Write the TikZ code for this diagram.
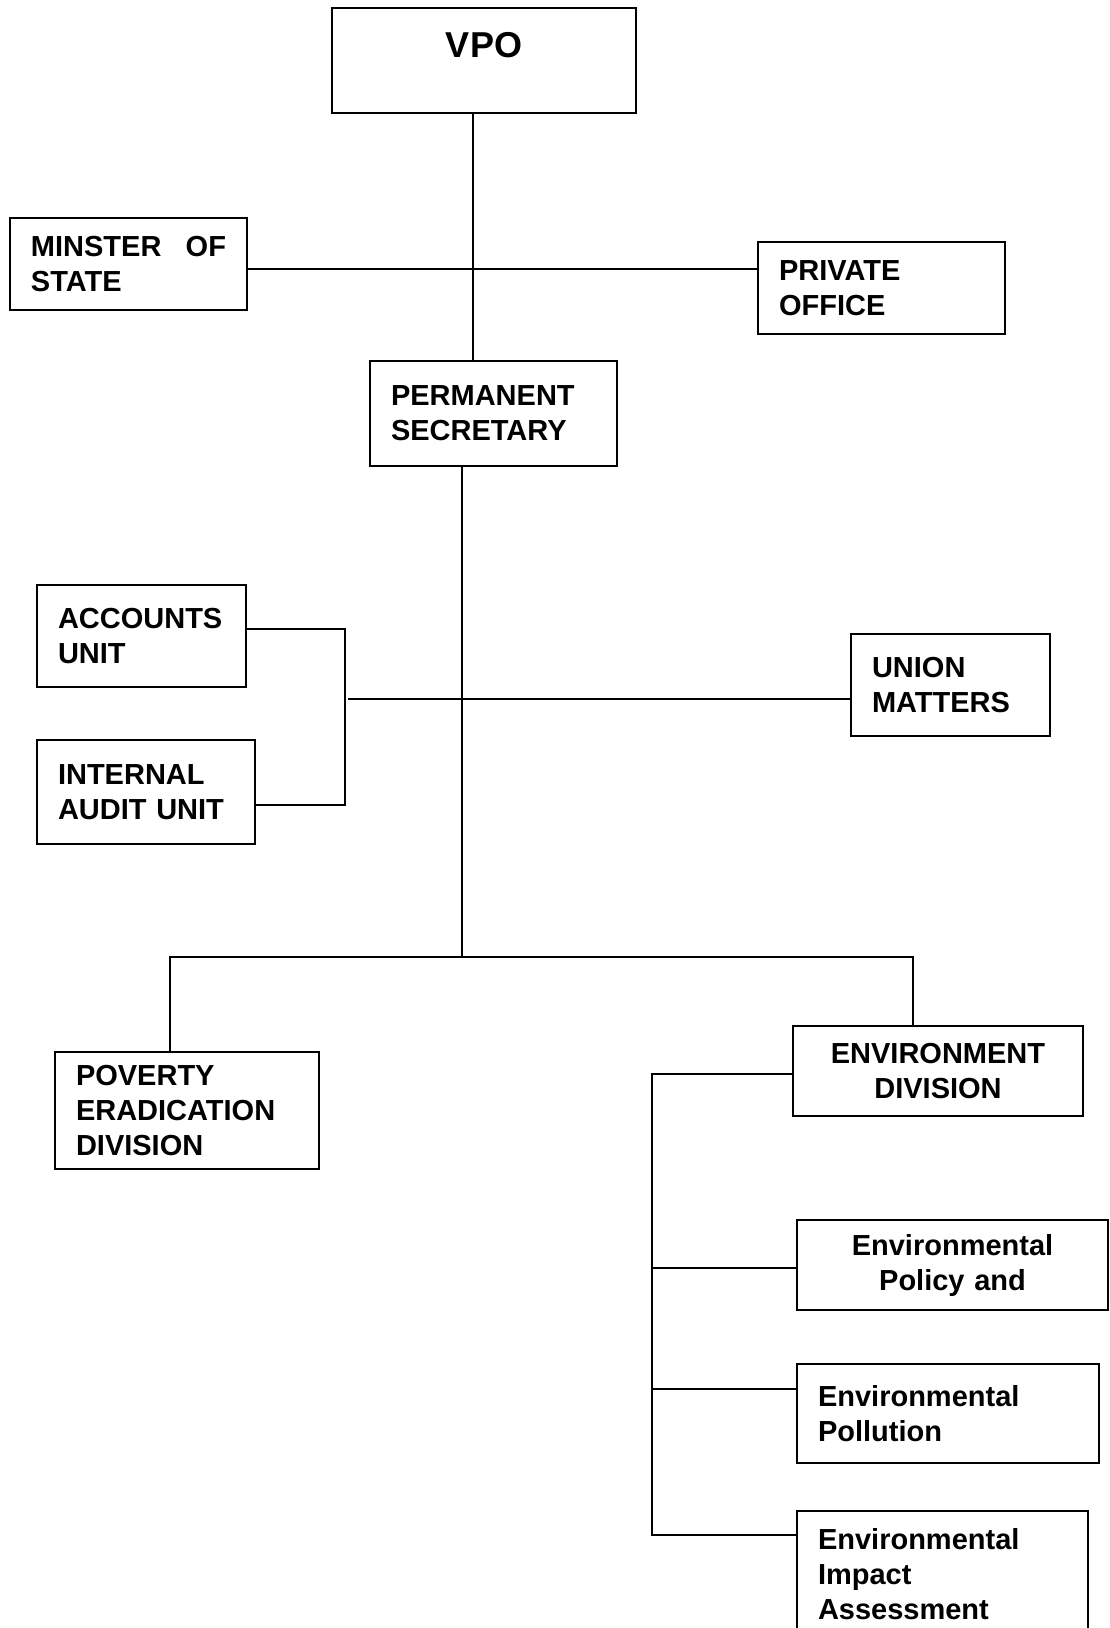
\documentclass[tikz,border=0pt]{standalone}
\usepackage{fontspec}
\setmainfont{Liberation Sans}
\usepackage{tikz}

\begin{document}
\begin{tikzpicture}[x=0.5pt,y=-0.5pt]
\tikzstyle{unit}=[draw,line width=1pt,anchor=north west,inner xsep=10.5pt,inner ysep=0pt,align=left,font=\bfseries\fontsize{14.5}{17.5}\selectfont]
\tikzstyle{cunit}=[unit,align=center]
\tikzstyle{link}=[line width=0.75pt]
\useasboundingbox (0,0) rectangle (1109,1628);
\node[unit,minimum width=152pt,minimum height=52.5pt,inner sep=0pt,align=center,text height=24.5pt,text depth=28pt,font=\bfseries\fontsize{18}{21}\selectfont] (vpo) at (331,7) {VPO};
\node[unit,minimum width=118.5pt,text width=97.5pt,minimum height=46pt] (minister) at (9,217) {MINSTER\hfill OF\\STATE};
\node[unit,minimum width=123.5pt,text width=102.5pt,minimum height=46pt] (private) at (757,241) {PRIVATE\\OFFICE};
\node[unit,minimum width=123.5pt,text width=102.5pt,minimum height=52.5pt] (perm) at (369,360) {PERMANENT\\SECRETARY};
\node[unit,minimum width=104.5pt,text width=83.5pt,minimum height=51pt] (accounts) at (36,584) {ACCOUNTS\\UNIT};
\node[unit,minimum width=109pt,text width=88pt,minimum height=52pt] (audit) at (36,739) {INTERNAL\\AUDIT UNIT};
\node[unit,minimum width=99.5pt,text width=78.5pt,minimum height=51pt] (union) at (850,633) {UNION\\MATTERS};
\node[unit,minimum width=132pt,text width=111pt,minimum height=58.5pt] (poverty) at (54,1051) {POVERTY\\ERADICATION\\DIVISION};
\node[cunit,minimum width=145pt,text width=124pt,minimum height=45pt] (envdiv) at (792,1025) {ENVIRONMENT\\DIVISION};
\node[cunit,minimum width=155.5pt,text width=134.5pt,minimum height=45pt] (envpol) at (796,1219) {Environmental\\Policy and};
\node[unit,minimum width=151pt,text width=130pt,minimum height=49.5pt] (pollution) at (796,1363) {Environmental\\Pollution};
\node[unit,minimum width=145.5pt,text width=124.5pt,minimum height=63pt] (eia) at (796,1510) {Environmental\\Impact\\Assessment};
\coordinate (top) at (473,269);
\coordinate (acc) at (345,629);
\coordinate (aud) at (345,805);
\coordinate (mid) at (348,699);
\coordinate (bar) at (462,957);
\coordinate (barl) at (170,957);
\coordinate (barr) at (913,957);
\coordinate (ed) at (652,1074);
\coordinate (ep) at (652,1268);
\coordinate (pl) at (652,1389);
\coordinate (ei) at (652,1535);
\draw[link] (vpo.south -| top) -- (perm.north -| top);
\draw[link] (minister.east |- top) -- (private.west |- top);
\draw[link] (perm.south -| bar) -- (bar);
\draw[link] (accounts.east |- acc) -- (acc) -- (aud) -- (audit.east |- aud);
\draw[link] (mid) -- (union.west |- mid);
\draw[link] (poverty.north -| barl) -- (barl) -- (barr) -- (envdiv.north -| barr);
\draw[link] (envdiv.west |- ed) -- (ed) -- (ei) -- (eia.west |- ei);
\draw[link] (ep) -- (envpol.west |- ep);
\draw[link] (pl) -- (pollution.west |- pl);
\end{tikzpicture}
\end{document}
